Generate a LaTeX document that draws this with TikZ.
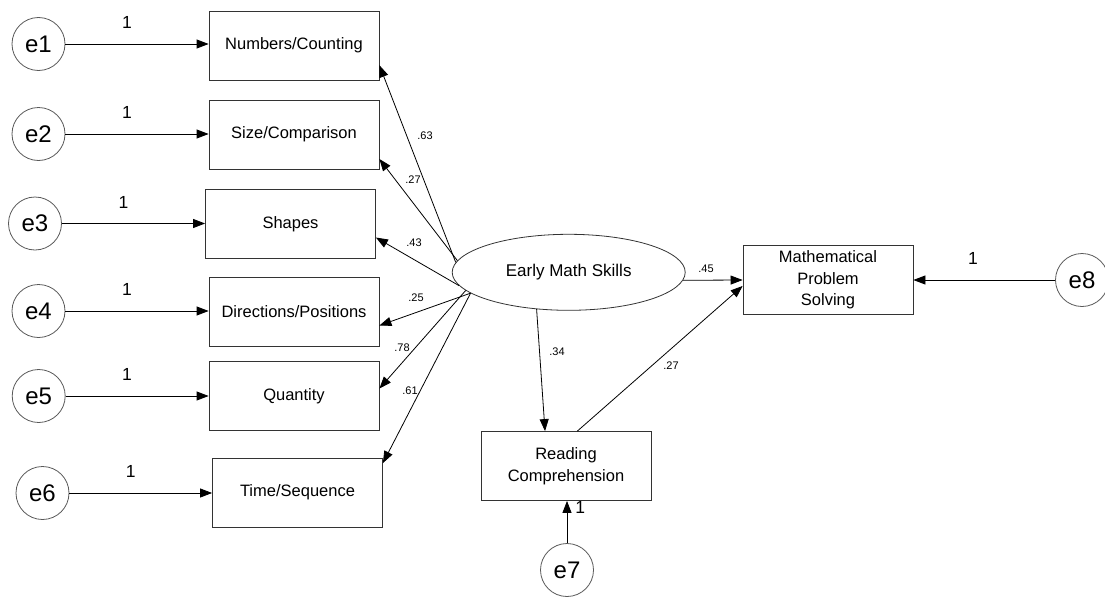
\documentclass[tikz,border=0pt]{standalone}
\usepackage{fontspec}
\setmainfont{Liberation Sans}
\usetikzlibrary{arrows.meta,shapes.geometric}

\begin{document}
\begin{tikzpicture}[x=1pt,y=-1pt,
  obs/.style={draw=black!80, line width=0.8pt, minimum width=170pt, minimum height=69pt,
    inner sep=0pt, align=center, font=\fontsize{16.5}{21.5}\selectfont},
  lat/.style={ellipse, draw=black!80, line width=0.8pt, minimum width=233pt,
    minimum height=76pt, inner sep=0pt, font=\fontsize{17}{20}\selectfont},
  err/.style={circle, draw=black!65, line width=0.8pt, minimum size=53pt,
    inner sep=0pt, font=\fontsize{24}{26}\selectfont},
  causal/.style={-{Triangle[length=12pt,width=9pt]}, line width=0.8pt},
  coef/.style={font=\fontsize{11}{13}\selectfont, inner sep=1pt},
  wt/.style={font=\fontsize{17.5}{20}\selectfont, anchor=south, inner sep=0pt, yshift=15pt}]
\useasboundingbox (0,0) rectangle (1105,597);

% observed indicators
\node[obs] (nc) at (294,45.5) {Numbers/Counting};
\node[obs] (sc) at (294,134.5) {Size/Comparison};
\node[obs] (sh) at (290.5,224) {Shapes};
\node[obs] (dp) at (294,312) {Directions/Positions};
\node[obs] (qt) at (294,396) {Quantity};
\node[obs] (ts) at (297.5,492.5) {Time/Sequence};

% latent factor and outcomes
\node[lat] (ems) at (568.7,272.3) {Early Math Skills};
\node[obs] (mps) at (828,280) {Mathematical\\Problem\\Solving};
\node[obs] (rc) at (566,466) {Reading\\Comprehension};

% error terms
\node[err] (e1) at (38.5,44) {e1};
\node[err] (e2) at (38.5,134) {e2};
\node[err] (e3) at (35,223.5) {e3};
\node[err] (e4) at (38.5,311) {e4};
\node[err] (e5) at (38.7,396) {e5};
\node[err] (e6) at (42.5,493) {e6};
\node[err] (e7) at (567,570) {e7};
\node[err] (e8) at (1082,280) {e8};

\draw[causal] (e1) -- (e1 -| nc.west) node[wt, pos=.43] {1};
\draw[causal] (e2) -- (e2 -| sc.west) node[wt, pos=.43] {1};
\draw[causal] (e3) -- (e3 -| sh.west) node[wt, pos=.43] {1};
\draw[causal] (e4) -- (e4 -| dp.west) node[wt, pos=.43] {1};
\draw[causal] (e5) -- (e5 -| qt.west) node[wt, pos=.43] {1};
\draw[causal] (e6) -- (e6 -| ts.west) node[wt, pos=.43] {1};
\draw[causal] (e8) -- (e8 -| mps.east) node[wt, pos=.58] {1};
\draw[causal] (e7) -- (e7 |- rc.south)
  node[pos=.84, anchor=west, inner sep=0pt, xshift=8pt, font=\fontsize{17.5}{20}\selectfont] {1};

% loadings
\draw[causal] (ems.175.5) -- (nc.-13);
\draw[causal] (ems.174.5) -- (sc.-16.7);
\draw[causal] (ems.187) -- (sh.-9);
\draw[causal] (ems.192) -- (dp.-9.5);
\draw[causal] (ems.190) -- (qt.5.4);
\draw[causal] (ems.192.5) -- (ts.19);

% structural paths
\draw[causal] (ems.-4) -- (mps.west);
\draw[causal] (ems.229.7) -- (rc.121);
\draw[causal] (rc.72.5) -- (mps.184);

\node[coef] (l1) at (425,136) {.63};
\node[coef] (l2) at (413,180) {.27};
\node[coef] (l3) at (414,243) {.43};
\node[coef] (l4) at (416,298) {.25};
\node[coef] (l5) at (402,348) {.78};
\node[coef] (l6) at (410,391) {.61};
\node[coef] (b1) at (557,352) {.34};
\node[coef] (b2) at (671,366) {.27};
\node[coef] (b3) at (706,269) {.45};
\end{tikzpicture}
\end{document}
